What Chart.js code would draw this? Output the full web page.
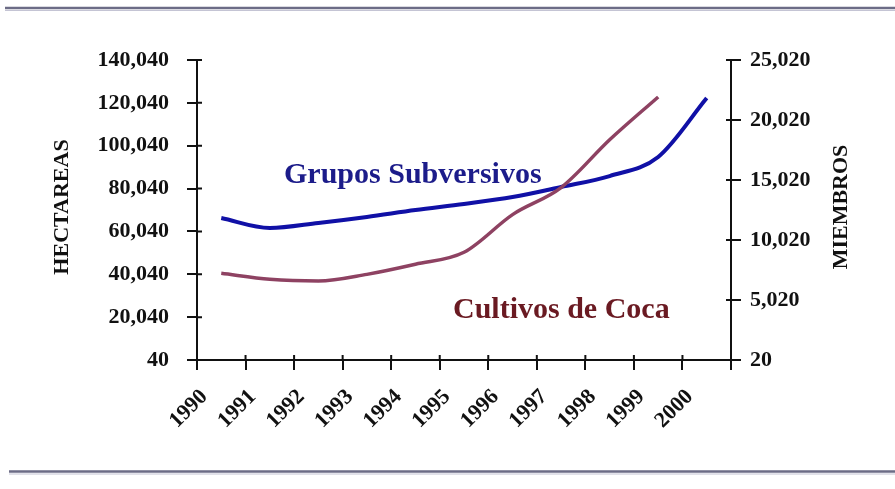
<!DOCTYPE html>
<html>
<head>
<meta charset="utf-8">
<script src="https://cdn.jsdelivr.net/npm/chart.js@4"></script>
<style>
  html, body { margin: 0; padding: 0; background: #fff; }
  #wrap { width: 895px; height: 489px; }
</style>
</head>
<body>
<div id="wrap"><canvas id="chart" width="895" height="489"></canvas></div>
<script>
const years = ['1990', '1991', '1992', '1993', '1994', '1995', '1996', '1997', '1998', '1999', '2000'];

// Cultivos de Coca, hectareas (left axis)
const cocaHectares = [40500, 37700, 36900, 40000, 44700, 50300, 67900, 80500, 102800, 122800, null];

// Grupos Subversivos, miembros (right axis)
const groupMembers = [11850, 11020, 11440, 11940, 12520, 13020, 13600, 14440, 15350, 16940, 21850];

const leftTicks = [40, 20040, 40040, 60040, 80040, 100040, 120040, 140040];
const rightTicks = [20, 5020, 10020, 15020, 20020, 25020];

const serif = '"Liberation Serif", "Times New Roman", serif';
const ink = '#111';

function fmt(v) {
  return Number(v).toLocaleString('en-US');
}

// slide rules, inward halves of the crossing tick marks, axis titles and series captions
const decor = {
  id: 'decor',
  beforeDraw(chart) {
    const ctx = chart.ctx;
    ctx.save();
    ctx.fillStyle = '#fff';
    ctx.fillRect(0, 0, chart.width, chart.height);
    ctx.lineWidth = 2.5;
    ctx.strokeStyle = '#6c6c86';
    ctx.beginPath();
    ctx.moveTo(5, 8); ctx.lineTo(chart.width, 8);
    ctx.moveTo(9, 471.5); ctx.lineTo(chart.width, 471.5);
    ctx.stroke();
    ctx.lineWidth = 1;
    ctx.strokeStyle = '#c4c4d4';
    ctx.beginPath();
    ctx.moveTo(5, 10.5); ctx.lineTo(chart.width, 10.5);
    ctx.moveTo(9, 474); ctx.lineTo(chart.width, 474);
    ctx.stroke();
    ctx.restore();
  },
  afterDraw(chart) {
    const ctx = chart.ctx;
    const x = chart.scales.x;
    const yl = chart.scales.y;
    const yr = chart.scales.y2;
    ctx.save();
    ctx.strokeStyle = ink;
    ctx.lineWidth = 2;
    ctx.beginPath();
    for (let k = 0; k <= years.length; k++) {
      const px = x.getPixelForValue(k - 0.5);
      ctx.moveTo(px, x.top);
      ctx.lineTo(px, x.top - 5);
    }
    leftTicks.forEach(v => {
      const py = yl.getPixelForValue(v);
      ctx.moveTo(yl.right, py);
      ctx.lineTo(yl.right + 5, py);
    });
    rightTicks.forEach(v => {
      const py = yr.getPixelForValue(v);
      ctx.moveTo(yr.left, py);
      ctx.lineTo(yr.left - 5, py);
    });
    ctx.stroke();

    ctx.fillStyle = ink;
    ctx.font = 'bold 22px ' + serif;
    ctx.textAlign = 'center';
    ctx.textBaseline = 'middle';
    const midY = (chart.chartArea.top + chart.chartArea.bottom) / 2;
    [['HECTAREAS', 62], ['MIEMBROS', 841]].forEach(([txt, cx]) => {
      ctx.save();
      ctx.translate(cx, midY - 3);
      ctx.rotate(-Math.PI / 2);
      ctx.fillText(txt, 0, 0);
      ctx.restore();
    });

    ctx.font = 'bold 30px ' + serif;
    ctx.textAlign = 'left';
    ctx.textBaseline = 'alphabetic';
    ctx.fillStyle = '#1c1c8a';
    ctx.fillText('Grupos Subversivos', 284, 183);
    ctx.fillStyle = '#6a1a22';
    ctx.fillText('Cultivos de Coca', 453, 318);
    ctx.restore();
  }
};

new Chart(document.getElementById('chart'), {
  type: 'line',
  data: {
    labels: years,
    datasets: [
      {
        label: 'Cultivos de Coca',
        data: cocaHectares,
        yAxisID: 'y',
        borderColor: '#8e4262',
        borderWidth: 3.5,
        pointRadius: 0,
        cubicInterpolationMode: 'monotone',
        fill: false,
      },
      {
        label: 'Grupos Subversivos',
        data: groupMembers,
        yAxisID: 'y2',
        borderColor: '#1010a6',
        borderWidth: 4,
        pointRadius: 0,
        cubicInterpolationMode: 'monotone',
        fill: false,
      },
    ],
  },
  plugins: [decor],
  options: {
    responsive: false,
    animation: false,
    layout: { padding: { top: 60, left: 0, right: 0, bottom: 0 } },
    plugins: {
      legend: { display: false },
      tooltip: { enabled: false },
    },
    scales: {
      x: {
        offset: true,
        grid: { offset: true, drawOnChartArea: false, tickLength: 10, color: ink, lineWidth: 2 },
        border: { color: ink, width: 2 },
        ticks: {
          color: ink,
          font: { family: serif, size: 22, weight: 'bold' },
          minRotation: 45,
          maxRotation: 45,
          padding: 14,
          labelOffset: -17,
          autoSkip: false,
        },
        afterFit(scale) { scale.height = 129; },
      },
      y: {
        position: 'left',
        min: 40,
        max: 140040,
        grid: { drawOnChartArea: false, tickLength: 10, color: ink, lineWidth: 2 },
        border: { color: ink, width: 2 },
        afterBuildTicks(scale) { scale.ticks = leftTicks.map(v => ({ value: v })); },
        ticks: {
          color: ink,
          font: { family: serif, size: 22, weight: 'bold' },
          padding: 18,
          callback: v => fmt(v),
        },
        afterFit(scale) { scale.width = 197; },
      },
      y2: {
        position: 'right',
        min: 20,
        max: 25020,
        grid: { drawOnChartArea: false, tickLength: 10, color: ink, lineWidth: 2 },
        border: { color: ink, width: 2 },
        afterBuildTicks(scale) { scale.ticks = rightTicks.map(v => ({ value: v })); },
        ticks: {
          color: ink,
          font: { family: serif, size: 22, weight: 'bold' },
          padding: 9,
          callback: v => fmt(v),
        },
        afterFit(scale) { scale.width = 164; },
      },
    },
  },
});
</script>
</body>
</html>
